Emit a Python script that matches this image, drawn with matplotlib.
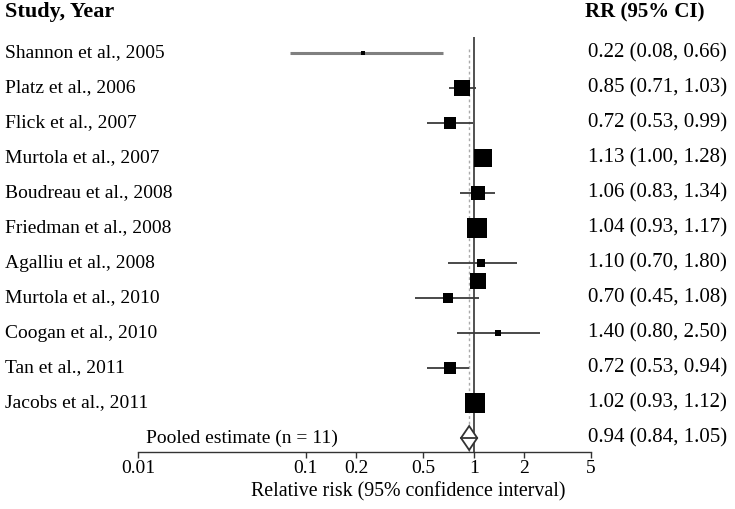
import matplotlib
matplotlib.use("Agg")
import matplotlib.pyplot as plt
from matplotlib.transforms import blended_transform_factory
from matplotlib.patches import Polygon
import numpy as np

studies = ["Shannon et al., 2005", "Platz et al., 2006", "Flick et al., 2007",
           "Murtola et al., 2007", "Boudreau et al., 2008", "Friedman et al., 2008",
           "Agalliu et al., 2008", "Murtola et al., 2010", "Coogan et al., 2010",
           "Tan et al., 2011", "Jacobs et al., 2011"]
rr = [0.22, 0.85, 0.72, 1.13, 1.06, 1.04, 1.10, 0.70, 1.40, 0.72, 1.02]
lo = [0.08, 0.71, 0.53, 1.00, 0.83, 0.93, 0.70, 0.45, 0.80, 0.53, 0.93]
hi = [0.66, 1.03, 0.99, 1.28, 1.34, 1.17, 1.80, 1.08, 2.50, 0.94, 1.12]
weights = [0.5, 12.8, 7.2, 16.2, 9.8, 18.1, 3.2, 4.1, 2.1, 6.1, 20.0]  # % (estimated)
# stray unlabeled square seen between Agalliu and Murtola 2010 rows
stray_rr = 1.06
stray_weight = 13.5
pooled_label = "Pooled estimate (n = 11)"
pooled = (0.94, 0.84, 1.05)
xticks = [0.01, 0.1, 0.2, 0.5, 1, 2, 5]
xticklabels = ["0.01", "0.1", "0.2", "0.5", "1", "2", "5"]
xlabel = "Relative risk (95% confidence interval)"

W, H = 735, 509
fig = plt.figure(figsize=(W / 100, H / 100), dpi=100)
plt.rcParams['font.family'] = ['Liberation Serif', 'DejaVu Serif']

x0, x1 = 138, 591
ytop, ybot = 37, 452
row0, step = 53, 35
ax = fig.add_axes([x0 / W, (H - ybot) / H, (x1 - x0) / W, (ybot - ytop) / H])
ax.set_xscale('log')
ax.set_xlim(0.01, 5)
ax.set_ylim((ybot - row0) / step, (ytop - row0) / step)
for s in ['top', 'right', 'left']:
    ax.spines[s].set_visible(False)
ax.spines['bottom'].set_color('#333333')
ax.spines['bottom'].set_linewidth(1.0)
ax.set_yticks([])
ax.set_xticks(xticks)
ax.set_xticklabels(xticklabels, fontsize=14)
ax.xaxis.set_minor_locator(matplotlib.ticker.NullLocator())
ax.tick_params(axis='x', direction='out', length=4, width=1, color='#333333', pad=2)
fig.text(408 / W, 1 - 492 / H, xlabel, fontsize=14.3, ha='center', va='center')

n = len(studies)
ys = np.arange(n)

# reference lines
ax.axvline(1, color='#222222', lw=1.1, zorder=1)
ax.plot([pooled[0], pooled[0]], [(49 - row0) / step, (ybot - row0) / step],
        color='#aaaaaa', lw=1.0, ls=(0, (2, 2)), zorder=1)

# CIs and squares
for i in range(n):
    col = '#808080' if i == 0 else '#3a3a3a'
    lw = 2.2 if i == 0 else 1.3
    ax.plot([lo[i], hi[i]], [ys[i], ys[i]], color=col, lw=lw, solid_capstyle='butt', zorder=2)
    side_px = np.sqrt(weights[i] * 20)
    ax.plot(rr[i], ys[i], marker='s', ms=side_px * 0.72, color='black', mew=0, zorder=3)

stray_y = 6.5
ax.plot(stray_rr, stray_y, marker='s', ms=np.sqrt(stray_weight * 20) * 0.72,
        color='black', mew=0, zorder=3)

# pooled diamond
py = n
hh = 12 / step
diamond = Polygon([[pooled[1], py], [pooled[0], py - hh], [pooled[2], py], [pooled[0], py + hh]],
                  closed=True, facecolor='white', edgecolor='#333333', lw=1.3, zorder=3)
ax.add_patch(diamond)
ax.plot([pooled[1], pooled[2]], [py, py], color='#333333', lw=1.3, zorder=4)

# texts
tr = blended_transform_factory(fig.transFigure, ax.transData)
fs = 14
fv = 15
ax.text(5 / W, (12 - row0) / step, "Study, Year", transform=tr, fontsize=16,
        fontweight='bold', va='center', ha='left', clip_on=False)
ax.text(585 / W, (12 - row0) / step, "RR (95% CI)", transform=tr, fontsize=15,
        fontweight='bold', va='center', ha='left', clip_on=False)
for i in range(n):
    ax.text(5 / W, ys[i], studies[i], transform=tr, fontsize=fs, va='center', ha='left', clip_on=False)
    ax.text(588 / W, ys[i], f"{rr[i]:.2f} ({lo[i]:.2f}, {hi[i]:.2f})", transform=tr,
            fontsize=fv, va='center', ha='left', clip_on=False)
ax.text(146 / W, py, pooled_label, transform=tr, fontsize=fs, va='center', ha='left', clip_on=False)
ax.text(588 / W, py, f"{pooled[0]:.2f} ({pooled[1]:.2f}, {pooled[2]:.2f})", transform=tr,
        fontsize=fv, va='center', ha='left', clip_on=False)

fig.savefig("out.png", dpi=100)
